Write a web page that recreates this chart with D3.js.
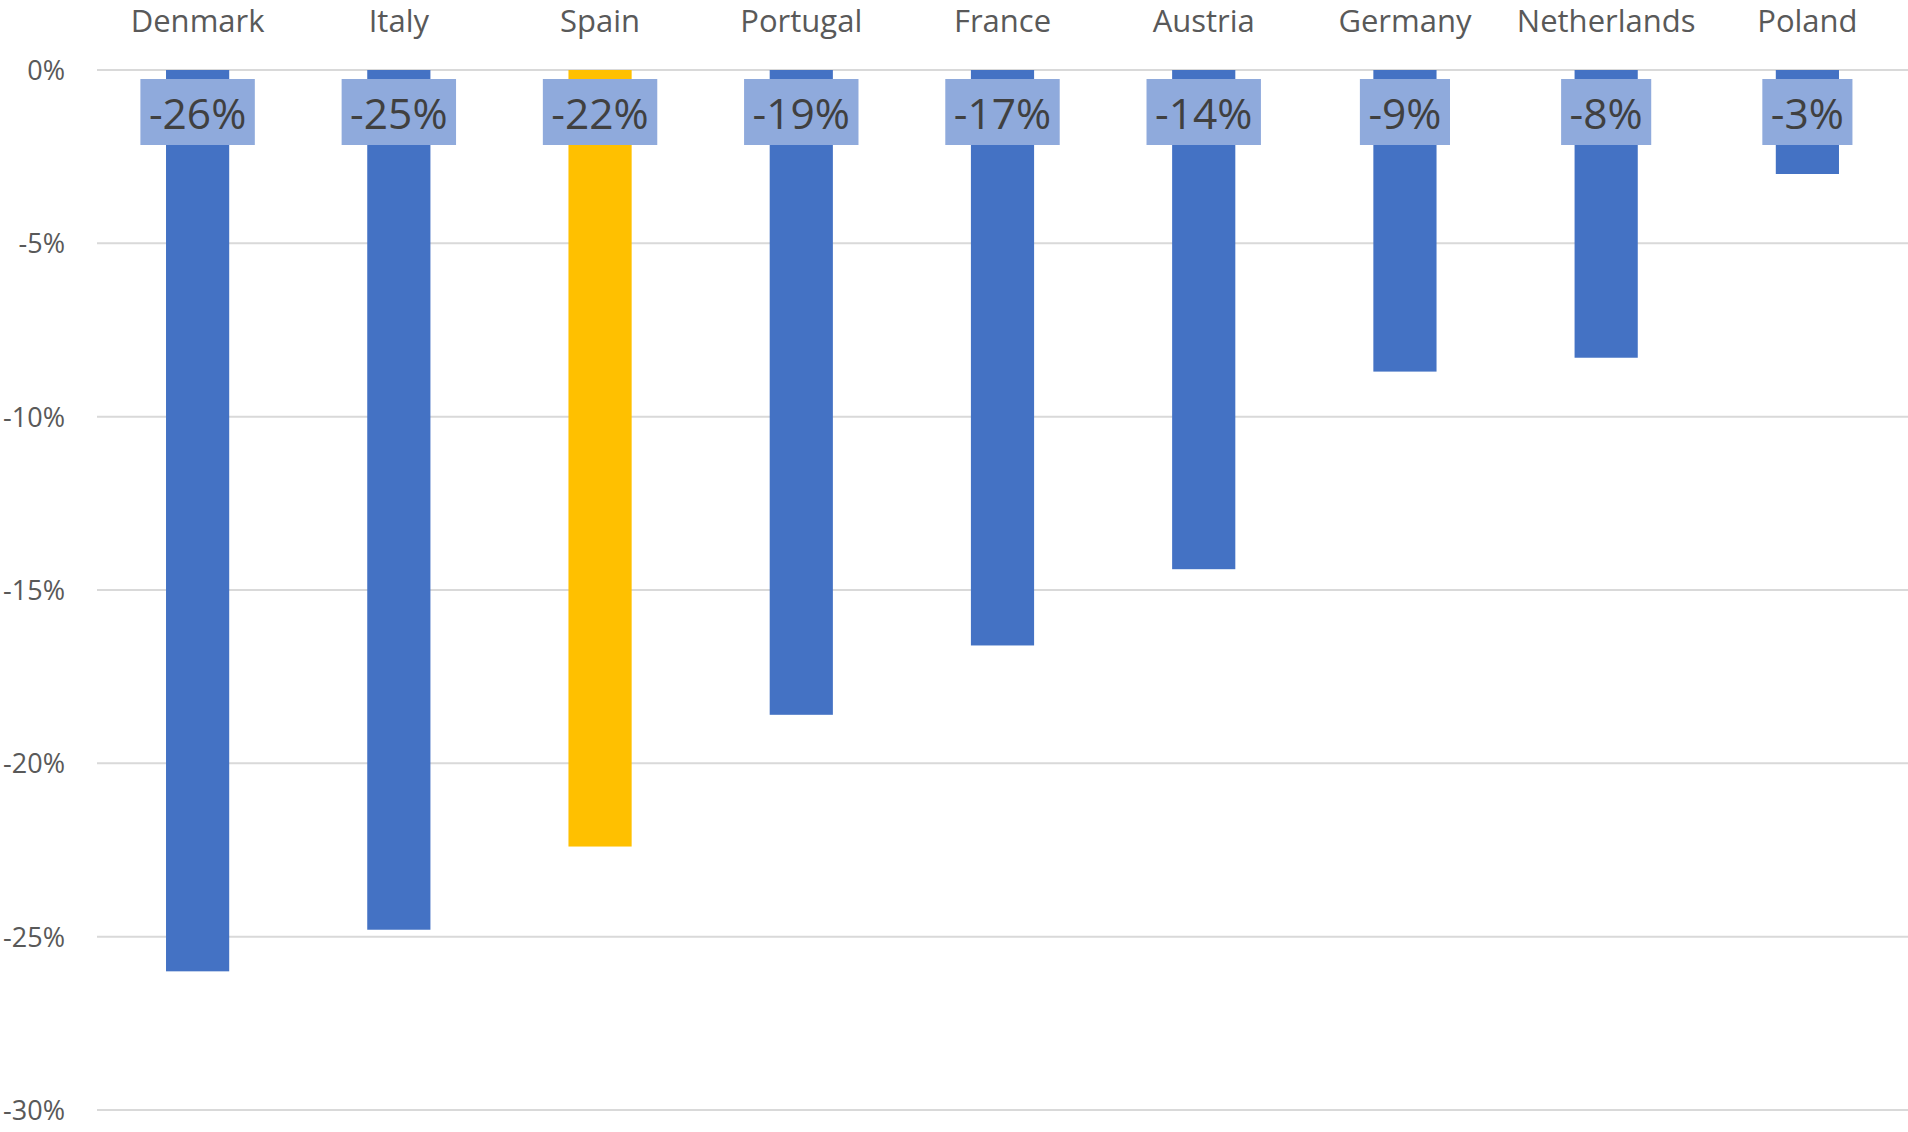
<!DOCTYPE html>
<html>
<head>
<meta charset="utf-8">
<script src="https://cdn.jsdelivr.net/npm/d3@7"></script>
<style>
  html, body { margin: 0; padding: 0; background: #fff; }
  svg { display: block; }
  text { font-family: "Open Sans", "Noto Sans", sans-serif; }
</style>
</head>
<body>
<svg id="chart" width="1908" height="1132"></svg>
<script>
const categories = ["Denmark", "Italy", "Spain", "Portugal", "France", "Austria", "Germany", "Netherlands", "Poland"];
const values = [-26.0, -24.8, -22.4, -18.6, -16.6, -14.4, -8.7, -8.3, -3.0];
const labels = ["-26%", "-25%", "-22%", "-19%", "-17%", "-14%", "-9%", "-8%", "-3%"];
const highlight = ["Spain"];
const yTicks = [0, -5, -10, -15, -20, -25, -30];
const yTickLabels = ["0%", "-5%", "-10%", "-15%", "-20%", "-25%", "-30%"];

(function () {
const svg = d3.select("#chart");
const mLeft = 97, mRight = 1908, mTop = 70, mBottom = 1110;

const x = d3.scaleBand().domain(categories).range([mLeft, mRight]).paddingInner(0.686).paddingOuter(0.343);
const y = d3.scaleLinear().domain([0, -30]).range([mTop, mBottom]);

// gridlines
svg.append("g").selectAll("line").data(yTicks).join("line")
  .attr("x1", mLeft).attr("x2", mRight)
  .attr("y1", d => y(d)).attr("y2", d => y(d))
  .attr("stroke", "#d9d9d9").attr("stroke-width", 2);

// y axis labels
const yAxis = d3.axisLeft(y).tickValues(yTicks).tickSize(0).tickPadding(0)
  .tickFormat((d, i) => yTickLabels[i]);
const ya = svg.append("g").attr("transform", "translate(65,0)").call(yAxis);
ya.select(".domain").remove();
ya.selectAll("text").attr("fill", "#595959").style("font-size", "27px")
  .style("font-family", '"Open Sans", "Noto Sans", sans-serif').attr("dy", "0.35em");

// category labels at top
const xAxis = d3.axisTop(x).tickSize(0).tickPadding(0);
const xa = svg.append("g").attr("transform", "translate(0,32)").call(xAxis);
xa.select(".domain").remove();
xa.selectAll("text").attr("fill", "#595959").style("font-size", "31px")
  .style("font-family", '"Open Sans", "Noto Sans", sans-serif').attr("dy", "0");

// bars
svg.append("g").selectAll("rect").data(categories).join("rect")
  .attr("x", d => x(d))
  .attr("width", x.bandwidth())
  .attr("y", y(0))
  .attr("height", (d, i) => y(values[i]) - y(0))
  .attr("fill", d => highlight.includes(d) ? "#FFC000" : "#4472C4");

// data labels
const lg = svg.append("g");
categories.forEach((c, i) => {
  const cx = x(c) + x.bandwidth() / 2;
  const g = lg.append("g");
  const rect = g.append("rect").attr("fill", "#8FAADC");
  const t = g.append("text")
    .attr("x", cx).attr("y", y(0) + 43.5)
    .attr("dy", "0.36em")
    .attr("text-anchor", "middle")
    .attr("fill", "#404040")
    .style("font-size", "42.5px")
    .text(labels[i]);
  const w = t.node().getComputedTextLength() + 17;
  rect.attr("x", cx - w / 2).attr("width", w)
    .attr("y", y(0) + 9).attr("height", 66);
});
})();
</script>
</body>
</html>
